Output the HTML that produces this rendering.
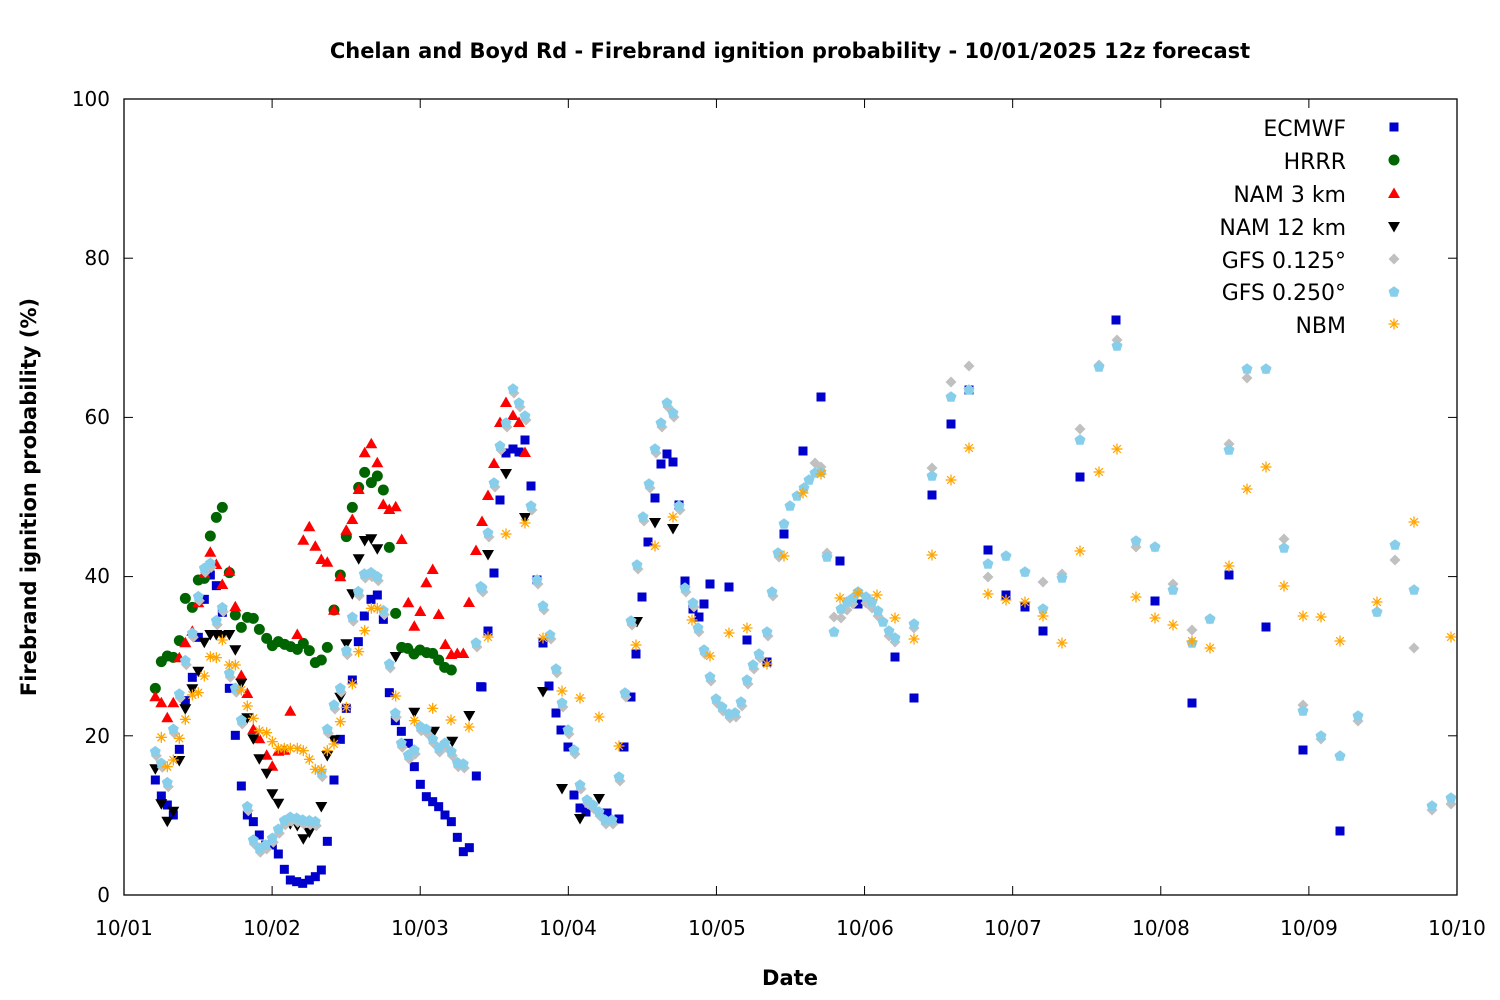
<!DOCTYPE html>
<html><head><meta charset="utf-8"><style>
body{margin:0;background:#fff}
svg{display:block}
text{font-family:"DejaVu Sans","Liberation Sans",sans-serif;fill:#000}
</style></head><body>
<svg id="s" width="1500" height="1000" viewBox="0 0 1500 1000" xmlns="http://www.w3.org/2000/svg">
<rect width="1500" height="1000" fill="#fff"/>
<text x="790" y="58" font-size="21" font-weight="bold" text-anchor="middle">Chelan and Boyd Rd - Firebrand ignition probability - 10/01/2025 12z forecast</text>
<text x="790" y="985" font-size="21" font-weight="bold" text-anchor="middle">Date</text>
<text transform="translate(36,497) rotate(-90)" font-size="21" font-weight="bold" text-anchor="middle">Firebrand ignition probability (%)</text>
<g font-size="20" text-anchor="end">
<text x="110" y="902">0</text><text x="110" y="743">20</text><text x="110" y="583">40</text>
<text x="110" y="424">60</text><text x="110" y="265">80</text><text x="110" y="106">100</text>
</g>
<g font-size="20" text-anchor="middle">
<text x="124" y="935">10/01</text><text x="272" y="935">10/02</text><text x="420" y="935">10/03</text>
<text x="568" y="935">10/04</text><text x="717" y="935">10/05</text><text x="865" y="935">10/06</text>
<text x="1013" y="935">10/07</text><text x="1161" y="935">10/08</text><text x="1309" y="935">10/09</text>
<text x="1457" y="935">10/10</text>
</g>
<g id="ticks" stroke="#000" stroke-width="1"></g>
<rect x="124" y="99" width="1333" height="796" fill="none" stroke="#000" stroke-width="1.3"/>
<g font-size="22" text-anchor="end">
<text x="1346" y="136">ECMWF</text><text x="1346" y="169">HRRR</text><text x="1346" y="202">NAM 3 km</text>
<text x="1346" y="235">NAM 12 km</text><text x="1346" y="268">GFS 0.125°</text><text x="1346" y="300">GFS 0.250°</text>
<text x="1346" y="333">NBM</text>
</g>
<g id="pts"></g>
</svg>
<script>
var NS="http://www.w3.org/2000/svg";
var tk=document.getElementById('ticks'),P=document.getElementById('pts');
function ln(g,x1,y1,x2,y2,c,w){var e=document.createElementNS(NS,'line');e.setAttribute('x1',x1);e.setAttribute('y1',y1);e.setAttribute('x2',x2);e.setAttribute('y2',y2);if(c)e.setAttribute('stroke',c);if(w)e.setAttribute('stroke-width',w);g.appendChild(e);}
for(var i=0;i<=5;i++){var y=895-i*159.2;ln(tk,124,y,133,y);ln(tk,1457,y,1448,y);}
for(var d=0;d<=9;d++){var x=124+d*148.11;ln(tk,x,895,x,886);ln(tk,x,99,x,108);}
function el(n,a){var e=document.createElementNS(NS,n);for(var k in a)e.setAttribute(k,a[k]);P.appendChild(e);return e;}
function poly(pts,c){el('polygon',{points:pts.map(function(p){return p[0].toFixed(1)+','+p[1].toFixed(1)}).join(' '),fill:c});}
var M={
sq:function(x,y){el('rect',{x:x-4.5,y:y-4.5,width:9,height:9,fill:'#0000cc'})},
ci:function(x,y){el('circle',{cx:x,cy:y,r:5.5,fill:'#006400'})},
tu:function(x,y){poly([[x,y-6.5],[x+6,y+4],[x-6,y+4]],'#ff0000')},
td:function(x,y){poly([[x,y+6.5],[x+6,y-4],[x-6,y-4]],'#000')},
di:function(x,y){poly([[x,y-5.5],[x+5.5,y],[x,y+5.5],[x-5.5,y]],'#c0c0c0')},
pe:function(x,y){var a=[];for(var i=0;i<5;i++){var t=-Math.PI/2+i*2*Math.PI/5;a.push([x+5.8*Math.cos(t),y+5.8*Math.sin(t)]);}poly(a,'#87ceeb')},
st:function(x,y){var r=5.5,g=P;ln(g,x-r,y,x+r,y,'#ffa500',1.3);ln(g,x,y-r,x,y+r,'#ffa500',1.3);ln(g,x-r*.7,y-r*.7,x+r*.7,y+r*.7,'#ffa500',1.3);ln(g,x-r*.7,y+r*.7,x+r*.7,y-r*.7,'#ffa500',1.3);}
};
function Z(ox,oy,sx,sy,a){return a.map(function(p){return [ox+p[0]/sx,oy+p[1]/sy]});}
function z1(a){return Z(124,380,3,3,a)} function z2(a){return Z(420,370,3,3,a)}
function z5(a){return Z(770,300,3,3,a)} function z6(a){return Z(1110,300,3,2.8,a)}
function draw(f,a){a.forEach(function(p){M[f](p[0],p[1])});}

// ECMWF
var ec=[].concat(z1([[94,1200],[112,1248],[130,1275],[148,1305],[166,1108],[184,962],[205,892],[223,772],[241,658],[259,585],[277,617],[295,697],[316,925],[334,1066],[352,1218],[370,1305],[388,1325],[406,1365],[425,1395],[445,1395],[463,1422],[481,1468],[499,1500],[518,1505],[536,1510],[556,1500],[574,1490],[592,1470],[610,1384],[630,1200],[649,1078],[667,985],[685,900],[703,785],[721,708],[741,658],[760,645],[778,718],[796,938],[814,1022],[832,1054],[853,1090],[871,1160],[889,1213],[907,1250],[926,1265],[944,1280],[963,1305],[982,1325],[1000,1372],[1018,1415],[1036,1403],[1057,1188],[1070,920]]),
[[482,687],[488,631],[494,573],[500,500],[506,453],[513,449],[519,452],[525,440],[531,486],[537,580],[543,643],[549,686],[556,713],[561,730],[568,747],[574,795],[580,808],[586,812],[607,813],[619,819],[624,747],[631,697],[636,654],[642,597],[648,542],[655,498],[661,464],[667,454],[673,462],[679,505],[685,581],[693,609],[699,617],[704,604],[710,584],[729,587],[747,640],[767,662],
[784,534],[803,451],[821,397],[840,561],[858,604],[895,657],[914,698],[932,495],[951,424],[969,390],[988,550],[1006,595],[1025,607],[1043,631],[1080,477],[1116,320],
[1155,601],[1192,703],[1229,575],[1266,627],[1303,750],[1340,831]]);
draw('sq',ec);
// HRRR
var hr=z1([[94,925],[112,845],[130,828],[148,832],[166,782],[184,655],[205,682],[223,600],[241,595],[259,468],[277,412],[295,382],[316,578],[334,705],[352,742],[370,712],[388,715],[406,748],[428,775],[445,797],[463,785],[482,793],[500,800],[520,808],[538,790],[556,812],[574,848],[592,840],[610,802],[630,690],[649,585],[667,470],[685,382],[704,322],[722,277],[742,308],[760,288],[778,330],[796,502],[815,700],[833,802],[851,805],[870,822],[888,810],[908,818],[926,820],[944,840],[962,862],[982,870]]);
draw('ci',hr);
// NAM 3km
var n3=z1([[94,952],[112,970],[130,1015],[148,970],[166,835],[184,790],[205,755],[223,670],[241,582],[259,518],[277,555],[295,615],[316,575],[334,682],[352,888],[370,942],[388,1050],[406,1078],[428,1127],[445,1160],[463,1115],[481,1112],[499,995],[520,765],[538,482],[556,442],[574,500],[592,540],[610,548],[630,692],[649,592],[667,452],[685,420],[704,330],[722,220],[742,193],[760,250],[778,375],[796,390],[815,382],[833,480],[853,670],[871,740],[889,696],[907,610],[926,570],[944,705],[964,795],[982,825],[1000,822],[1018,822]]).concat(
[[469,603],[476,551],[482,522],[488,496],[494,464],[500,423],[506,403],[513,416],[519,423],[525,453]]);
draw('tu',n3);
// NAM 12km
var n12=z1([[94,1165],[112,1270],[130,1322],[148,1292],[166,1140],[184,985],[205,925],[223,872],[241,785],[259,762],[277,762],[295,765],[316,762],[334,808],[352,908],[370,1012],[388,1075],[406,1135],[428,1178],[445,1240],[463,1268],[499,1330],[520,1335],[538,1375],[556,1355],[592,1278],[610,1125],[630,1078],[649,950],[667,790],[685,640],[704,535],[722,480],[742,475],[760,505],[815,828],[871,995],[930,1052],[985,1082],[1036,1005]]).concat(
[[488,554],[506,473],[525,517],[543,691],[562,788],[580,818],[599,798],[637,621],[655,522],[673,528]]);
draw('td',n12);
// GFS 0.25 (light blue)
var lb=[].concat(z1([[94,1115],[112,1150],[130,1208],[148,1048],[166,942],[184,842],[205,760],[223,650],[241,565],[259,550],[277,722],[295,683],[316,880],[334,925],[352,1020],[370,1280],[388,1380],[406,1405],[425,1395],[445,1375],[463,1348],[481,1322],[499,1312],[518,1315],[536,1320],[556,1322],[574,1325],[592,1178],[610,1048],[630,975],[649,925],[667,812],[685,712],[703,635],[721,582],[741,578],[760,590],[778,692],[796,852],[814,1000],[832,1090],[853,1125],[871,1110],[889,1040],[907,1048],[926,1078],[944,1104],[963,1090],[982,1115],[1000,1148],[1018,1152],[1070,620]]),
[[476,643],[482,588],[488,533],[494,483],[500,446],[506,423],[513,389],[519,403],[525,416],[531,506],[537,580],[543,606],[550,635],[556,669],[562,703],[568,730],[574,750],[580,785],[587,800],[593,805],[599,812],[605,820],[612,820],[619,777],[625,693],[631,621],[637,565],[643,517],[649,484],[655,449],[661,423],[667,403],[673,413],[679,506],[685,588],[693,603],[698,628],[704,650],[710,677],[716,699],[722,707],[729,714],[735,713],[741,702],[747,680],[753,665],[759,654],[767,632],[772,592],[778,553],
[784,524],[790,506],[797,496],[804,488],[809,480],[815,473],[821,472],[827,557],[834,632],[841,609],[847,602],[853,598],[858,592],[866,597],[872,602],[878,611],[883,622],[889,631],[895,638],[914,624],[932,476],[951,397],[969,390],[988,564],[1006,556],[1025,572],[1043,609],[1062,578],[1080,440],[1099,367],[1117,346],
[1136,541],[1155,547],[1173,590],[1192,643],[1210,619],[1229,450],[1247,369],[1266,369],[1284,548],[1303,711],[1321,736],[1340,756],[1358,716],[1377,612],[1395,545],[1414,590],[1432,806],[1451,798]]);
// GFS 0.125 grey
var gr=lb.filter(function(p){return p[0]<780}).map(function(p){return [p[0]+1,p[1]+4]}).concat(
[[815,463],[821,467],[827,553],[834,617],[841,618],[847,610],[853,604],[866,603],[872,608],[878,616],[889,636],[895,642],[914,628],[932,468],[951,382],[969,366],[988,577],[1006,556],[1025,572],[1043,582],[1062,574],[1080,429],[1099,365],[1117,340],
[1136,547],[1155,547],[1173,584],[1192,630],[1210,619],[1229,444],[1247,378],[1266,369],[1284,539],[1303,705],[1321,739],[1340,756],[1358,721],[1377,612],[1395,560],[1414,648],[1432,810],[1451,804]]);
draw('di',gr);
draw('pe',lb);
// NBM
var nb=[].concat(z1([[112,1072],[130,1160],[148,1140],[166,1075],[184,1018],[205,945],[223,938],[241,888],[259,830],[277,833],[295,780],[316,855],[334,855],[352,930],[370,978],[388,1015],[406,1052],[428,1058],[445,1085],[463,1105],[481,1105],[499,1105],[520,1105],[538,1112],[556,1138],[574,1168],[592,1168],[610,1112],[630,1092],[649,1025],[667,982],[685,912],[704,815],[722,752],[742,685],[760,685],[815,948],[871,1022],[926,985]]),
[[451,720],[469,727],[488,637],[506,534],[525,523],[543,638],[562,691],[580,698],[599,717],[619,746],[636,645],[655,546],[673,517],[692,620],[710,656],[729,633],[747,628],[767,664],
[784,556],[803,493],[821,474],[840,598],[858,593],[877,595],[895,618],[914,639],[932,555],[951,480],[969,448],[988,594],[1006,600],[1025,602],[1043,616],[1062,643],[1080,551],[1099,472],[1117,449],
[1136,597],[1155,618],[1173,625],[1192,641],[1210,648],[1229,566],[1247,489],[1266,467],[1284,586],[1303,616],[1321,617],[1340,641],[1377,602],[1414,522],[1451,637]]);
draw('st',nb);
// legend markers
M.sq(1394,127);M.ci(1394,160);M.tu(1394,194);M.td(1394,226);M.di(1394,259);M.pe(1394,292);M.st(1394,324);
</script>
</body></html>
